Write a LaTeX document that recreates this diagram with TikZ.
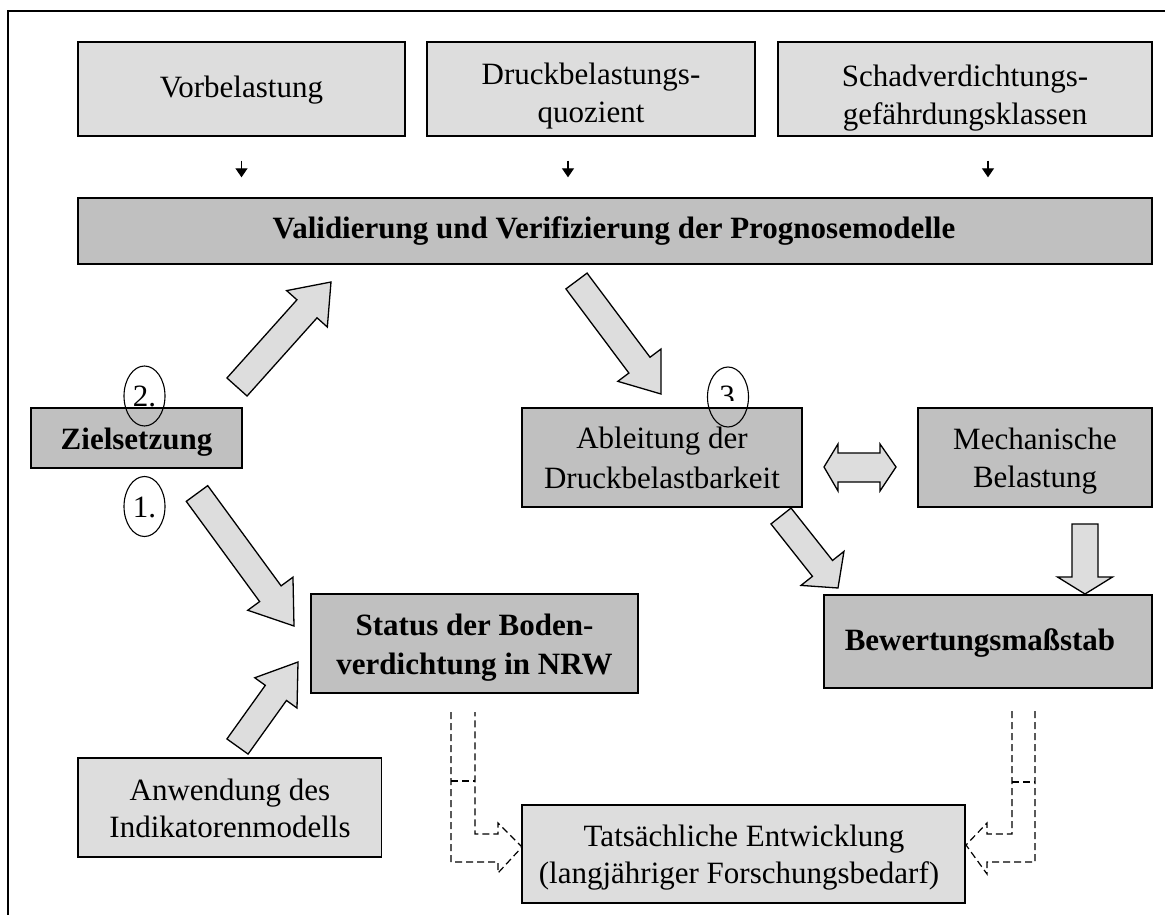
\documentclass[tikz,border=0pt]{standalone}
\usepackage{fontspec}
\setmainfont{Liberation Serif}
\usetikzlibrary{calc,arrows.meta,shapes.geometric}
\definecolor{lightg}{RGB}{221,221,221}
\definecolor{darkg}{RGB}{192,192,192}
\newcommand{\blockarrow}[5]{%
  \coordinate (bhx) at ($(#2)!#5!(#1)$);
  \draw[blockarr] ($(#1)!#3!90:(#2)$) -- ($(bhx)!#3!90:(#2)$) -- ($(bhx)!#4!90:(#2)$) -- (#2) -- ($(bhx)!#4!-90:(#2)$) -- ($(bhx)!#3!-90:(#2)$) -- ($(#1)!#3!-90:(#2)$) -- cycle;}
\begin{document}
\begin{tikzpicture}[x=1pt,y=-1pt,
  box/.style={draw, line width=1.4pt, inner sep=0pt, rectangle},
  lbox/.style={box, fill=lightg},
  dbox/.style={box, fill=darkg},
  txt/.style={anchor=base, inner sep=0pt, font=\fontsize{31pt}{38pt}\selectfont},
  btxt/.style={anchor=base, inner sep=0pt, font=\fontsize{31pt}{38pt}\selectfont\bfseries},
  blockarr/.style={draw, line width=1.3pt, fill=lightg, line join=miter},
  dasharr/.style={draw, line width=1.2pt, dash pattern=on 7pt off 4pt},
  smallarr/.style={line width=1.3pt, -{Triangle[width=12pt,length=9pt]}},
  ring/.style={draw, ellipse, line width=1.1pt, minimum width=41pt, minimum height=60pt, inner sep=0pt, text height=21pt, text depth=0pt, font=\fontsize{31pt}{38pt}\selectfont}
]
\useasboundingbox (0,0) rectangle (1165,915);
\fill[white] (0,0) rectangle (1165,915);
% frame
\draw[line width=1.9pt] (7.7,925) -- (7.7,11) -- (1175,11);

% boxes
\node[lbox, minimum width=327pt, minimum height=94pt] (vor) at (241.5,89) {};
\node[lbox, minimum width=328pt, minimum height=94pt] (druck) at (591,89) {};
\node[lbox, minimum width=374pt, minimum height=94pt] (schad) at (965,89) {};
\node[dbox, minimum width=1074pt, minimum height=66pt] (valid) at (615,231) {};
\node[dbox, minimum width=211pt, minimum height=60pt] (ziel) at (136.5,438) {};
\node[dbox, minimum width=280pt, minimum height=99pt] (ableit) at (662,457.5) {};
\node[dbox, minimum width=234pt, minimum height=99pt] (mech) at (1035,457.5) {};
\node[dbox, minimum width=327pt, minimum height=99pt] (status) at (474.5,643.5) {};
\node[dbox, minimum width=328pt, minimum height=93pt] (bew) at (988,641.5) {};
\node[lbox, minimum width=303.5pt, minimum height=99pt] (anw) at (229.75,807.5) {};
\node[lbox, minimum width=443pt, minimum height=98pt] (tats) at (743.5,854) {};

% texts
\node[txt] (vor-t) at (241.5,98) {Vorbelastung};
\node[txt] (druck-t1) at (591,85) {Druckbelastungs-};
\node[txt] (druck-t2) at (591,123) {quozient};
\node[txt] (schad-t1) at (965,87) {Schadverdichtungs-};
\node[txt] (schad-t2) at (965,125) {gefährdungsklassen};
\node[btxt] (valid-t) at (614,238) {Validierung und Verifizierung der Prognosemodelle};
\node[btxt] (ziel-t) at (136.5,449) {Zielsetzung};
\node[txt] (ableit-t1) at (662,448) {Ableitung der};
\node[txt] (ableit-t2) at (662,488) {Druckbelastbarkeit};
\node[txt] (mech-t1) at (1035,449) {Mechanische};
\node[txt] (mech-t2) at (1035,487) {Belastung};
\node[btxt] (status-t1) at (474.5,635) {Status der Boden-};
\node[btxt] (status-t2) at (474.5,674) {verdichtung in NRW};
\node[btxt] (bew-t) at (980,650) {Bewertungsmaßstab};
\node[txt] (anw-t1) at (230,800) {Anwendung des};
\node[txt] (anw-t2) at (230,837) {Indikatorenmodells};
\node[txt] (tats-t1) at (744,846) {Tatsächliche Entwicklung};
\node[txt] (tats-t2) at (739,883) {(langjähriger Forschungsbedarf)};

% small arrows
\draw[smallarr, shorten <=24pt, shorten >=20pt] (vor.south) -- (vor.south |- valid.north);
\draw[smallarr, shorten <=24pt, shorten >=20pt] ([xshift=-23pt]druck.south) -- ([xshift=-23pt]druck.south |- valid.north);
\draw[smallarr, shorten <=24pt, shorten >=20pt] ([xshift=23pt]schad.south) -- ([xshift=23pt]schad.south |- valid.north);

% block arrows
\coordinate (a2t) at (237,387); \coordinate (a2h) at (331,282);
\blockarrow{a2t}{a2h}{13.5pt}{27.3pt}{36pt}
\coordinate (avt) at (576.5,281); \coordinate (avh) at (661,394);
\blockarrow{avt}{avh}{13.2pt}{27pt}{36pt}
\coordinate (a1t) at (197,493.5); \coordinate (a1h) at (294,626);
\blockarrow{a1t}{a1h}{13.3pt}{28pt}{40pt}
\coordinate (ant) at (237.5,746.5); \coordinate (anh) at (298,662);
\blockarrow{ant}{anh}{13pt}{26pt}{38pt}
\coordinate (abt) at (781,516); \coordinate (abh) at (838,588);
\blockarrow{abt}{abh}{12.8pt}{27.4pt}{25pt}
\coordinate (mdt) at (1085,524); \coordinate (mdh) at (1085,594);
\blockarrow{mdt}{mdh}{13pt}{27.5pt}{17pt}

% double arrow
\coordinate (dbl) at (824,467);
\draw[blockarr] (dbl) -- ++(14,-23) -- ++(0,9) -- ++(42,0) -- ++(0,-9) -- ++(16,23) -- ++(-16,24) -- ++(0,-9) -- ++(-42,0) -- ++(0,9) -- cycle;

% dashed bent arrows
\coordinate (dls) at (451,712);
\draw[dasharr] (dls) -- (451,862) -- (498,862) -- (498,873) -- (522,847) -- (498,823) -- (498,834) -- (475,834) -- (475,712);
\draw[dasharr] (451,781) -- (475,781);
\coordinate (drs) at (1035,711);
\draw[dasharr] (drs) -- (1035,862) -- (987,862) -- (987,874) -- (966,845) -- (987,823) -- (987,834) -- (1012,834) -- (1012,711);
\draw[dasharr] (1012,782) -- (1035,782);

% numbered ellipses
\node[ring] (c2) at (144.5,396) {2.};
\node[ring] (c1) at (144.5,506.5) {1.};
\node[ring] (c3) at (728,397) {};
\begin{scope}
\clip (700,370) rectangle (760,400);
\node[txt] (c3t) at (727,406) {3};
\end{scope}
\end{tikzpicture}
\end{document}
